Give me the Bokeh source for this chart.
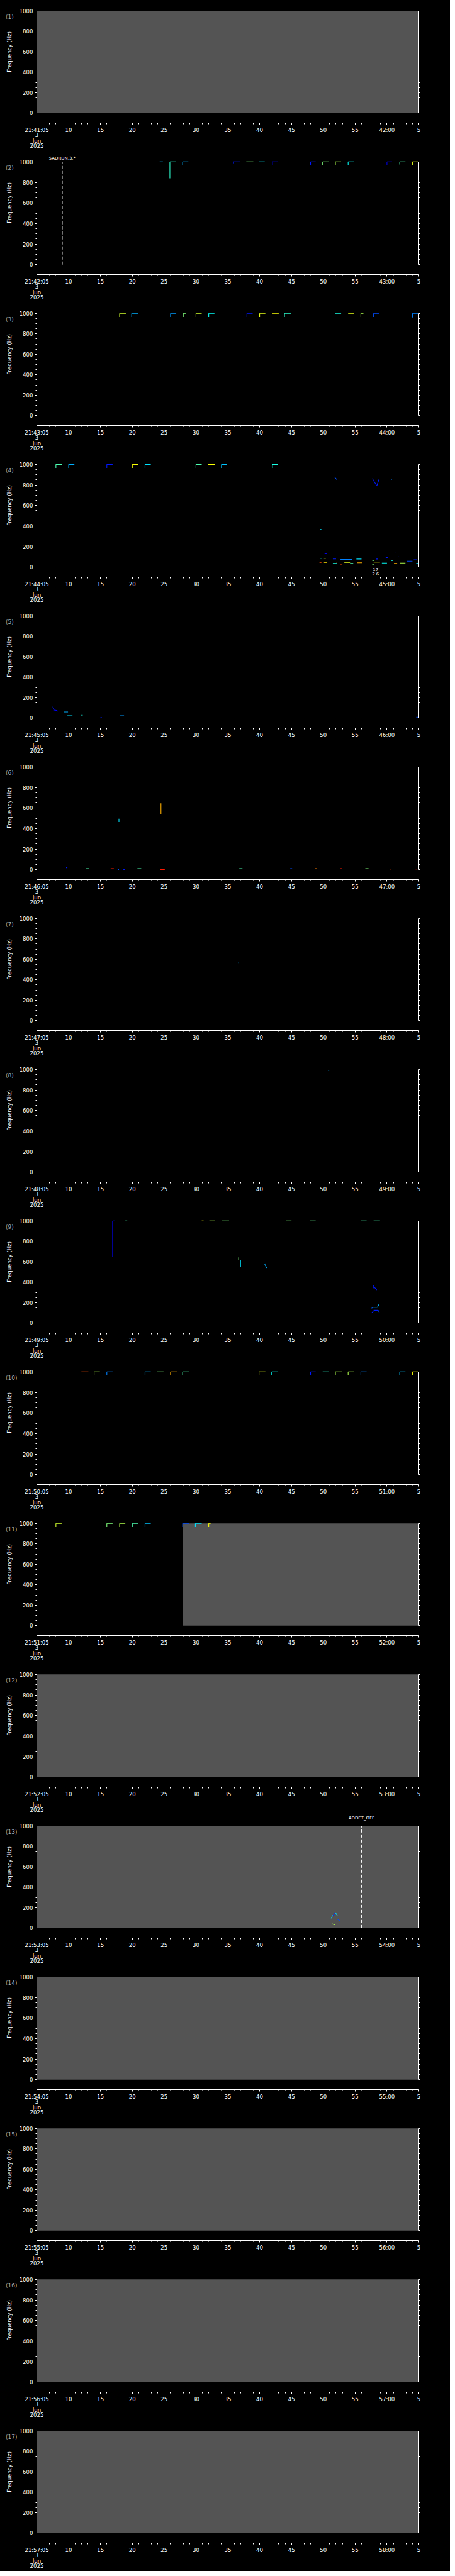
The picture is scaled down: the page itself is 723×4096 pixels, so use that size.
import numpy as np
from bokeh.plotting import figure
from bokeh.layouts import column, row
from bokeh.models import Range1d, LinearAxis, FixedTicker, Label, ColumnDataSource
from bokeh.transform import linear_cmap
from bokeh.embed import file_html
from bokeh.resources import INLINE

# ---------------- data ----------------
N_PANELS = 17
PANEL_START = ["21:%02d:05" % m for m in range(41, 58)]
NEXT_MINUTE = ["%02d:00" % m for m in range(42, 59)]
DATE_LINES = ["3", "Jun", "2025"]
X_TICKS = [0, 5, 10, 15, 20, 25, 30, 35, 40, 45, 50, 55, 60]
X_MID_LABELS = ["10", "15", "20", "25", "30", "35", "40", "45", "50", "55"]
X_LAST_LABEL = "5"
Y_TICKS = [0, 200, 400, 600, 800, 1000]
Y_LABEL = "Frequency  (Hz)"

# missing-data (grey) intervals, seconds after panel start
GAP_PANEL = [1, 11, 12, 13, 14, 15, 16, 17]
GAP_T0 = [0.0, 22.9, 0.0, 0.0, 0.0, 0.0, 0.0, 0.0]
GAP_T1 = [60.0, 60.0, 60.0, 60.0, 60.0, 60.0, 60.0, 60.0]

# step-shaped tones at the top of the band: start time, duration, lowest freq, colour value
GM_PANEL = [2]*14 + [3]*15 + [4]*9 + [9]*9 + [10]*16 + [11]*8
GM_T = [19.3, 20.9, 22.9, 30.9, 32.9, 34.9, 37.0, 43.0, 44.9, 46.9, 48.9, 55.0, 57.0, 59.0,
        13.0, 14.9, 21.0, 23.0, 25.0, 27.0, 33.0, 35.0, 37.0, 38.9, 46.9, 48.9, 50.9, 52.9, 59.0,
        3.0, 5.0, 11.0, 15.0, 17.0, 25.0, 26.9, 29.0, 37.0,
        11.9, 13.9, 25.9, 27.1, 29.0, 39.1, 42.9, 50.9, 52.9,
        7.0, 9.0, 11.0, 17.0, 18.9, 21.0, 22.9, 34.9, 36.9, 43.0, 44.9, 46.9, 48.9, 50.9, 57.0, 59.0,
        3.0, 11.0, 13.0, 15.0, 17.0, 22.9, 24.9, 27.0]
GM_DUR = [0.5, 1.0, 0.9, 1.0, 1.1, 0.9, 0.9, 0.8, 1.0, 0.9, 0.9, 0.8, 0.9, 0.9,
          1.0, 1.0, 0.9, 0.4, 0.9, 0.9, 0.9, 0.9, 1.0, 1.0, 0.9, 0.9, 0.4, 0.9, 0.9,
          1.0, 0.9, 0.9, 0.9, 0.9, 0.9, 1.1, 0.8, 0.9,
          0.3, 0.3, 0.3, 0.9, 1.2, 0.9, 0.9, 0.9, 1.0,
          1.1, 0.9, 0.9, 0.9, 1.0, 1.1, 1.0, 1.0, 1.0, 0.8, 1.0, 1.0, 0.9, 0.9, 0.9, 0.9,
          0.9, 0.9, 0.9, 0.9, 0.9, 1.0, 1.0, 0.3]
GM_FLO = [1000, 840, 965, 985, 1000, 1000, 965, 965, 965, 965, 965, 965, 975, 965,
          965, 965, 965, 965, 965, 965, 965, 965, 1000, 965, 1000, 1000, 965, 965, 960,
          965, 965, 965, 965, 965, 965, 1000, 965, 965,
          645, 1000, 1000, 1000, 1000, 1000, 1000, 1000, 1000,
          1000, 965, 965, 965, 1000, 965, 965, 965, 965, 965, 1000, 965, 965, 965, 965, 965,
          965, 965, 965, 965, 965, 965, 965, 965]
GM_C = [0.30, 0.42, 0.30, 0.15, 0.50, 0.36, 0.12, 0.15, 0.50, 0.55, 0.38, 0.10, 0.45, 0.60,
        0.58, 0.30, 0.28, 0.50, 0.58, 0.38, 0.15, 0.60, 0.62, 0.42, 0.40, 0.60, 0.55, 0.20, 0.25,
        0.45, 0.30, 0.15, 0.62, 0.35, 0.45, 0.62, 0.32, 0.40,
        0.10, 0.45, 0.62, 0.55, 0.50, 0.50, 0.48, 0.45, 0.45,
        0.80, 0.55, 0.25, 0.30, 0.50, 0.70, 0.45, 0.60, 0.38, 0.15, 0.42, 0.55, 0.55, 0.25, 0.32, 0.62,
        0.58, 0.50, 0.55, 0.45, 0.32, 0.20, 0.35, 0.62]

# short traces: panel, t0, t1, f0, f1, colour value
SEG_PANEL = [4]*33 + [5]*9 + [6]*16 + [7, 8] + [9]*12 + [12] + [13]*7
SEG_T0 = [44.5, 44.5, 45.1, 44.4, 45.1, 45.2, 46.5, 46.5, 47.0, 47.6, 47.7, 48.3, 49.2, 50.2, 50.3,
          52.7, 52.7, 52.9, 53.3, 54.2, 54.8, 55.6, 56.1, 56.2, 56.7, 57.0, 58.1, 59.2, 59.6,
          46.8, 52.7, 53.4, 55.7,
          2.5, 2.7, 3.2, 4.3, 4.8, 7.0, 10.0, 13.1, 59.6,
          12.9, 19.5, 4.6, 7.7, 11.6, 12.7, 13.6, 15.8, 19.4, 31.8, 39.8, 43.7, 47.6, 51.6, 55.5, 59.5,
          31.6, 45.8,
          31.7, 32.0, 35.8, 52.8, 52.8, 53.1, 52.6, 52.7, 53.5, 52.6, 52.9, 53.6,
          52.8,
          46.2, 46.5, 46.9, 47.2, 46.3, 46.9, 47.4]
SEG_T1 = [44.7, 44.8, 45.4, 44.7, 45.6, 45.6, 47.0, 47.1, 47.2, 47.9, 49.5, 49.2, 49.7, 51.0, 51.1,
          53.0, 52.9, 53.9, 53.6, 55.0, 55.1, 55.9, 56.6, 56.3, 56.8, 57.9, 59.0, 59.7, 60.0,
          47.1, 53.4, 53.8, 55.8,
          2.7, 3.2, 3.2, 4.9, 5.6, 7.2, 10.2, 13.7, 60.0,
          12.9, 19.5, 4.8, 8.2, 12.1, 12.9, 13.8, 16.4, 20.1, 32.3, 40.1, 44.0, 47.9, 52.1, 55.7, 59.7,
          31.7, 45.9,
          31.7, 32.0, 36.1, 53.1, 53.1, 53.4, 52.7, 53.5, 53.8, 52.9, 53.6, 53.8,
          52.9,
          46.5, 46.9, 47.2, 47.7, 46.9, 47.4, 48.0]
SEG_F0 = [367, 86, 86, 46, 46, 130, 80, 36, 50, 22, 75, 46, 36, 79, 43,
          65, 26, 50, 79, 40, 94, 65, 36, 141, 104, 40, 58, 72, 36,
          875, 863, 791, 856,
          112, 80, 74, 61, 23, 28, 6, 23, 10,
          463, 543, 19, 10, 10, 1, 1, 10, 1, 10, 10, 10, 10, 10, 6, 6,
          560, 985,
          643, 620, 577, 369, 345, 345, 143, 154, 154, 100, 126, 126,
          681,
          96, 117, 153, 89, 43, 39, 39]
SEG_F1 = [367, 86, 86, 46, 46, 130, 80, 36, 50, 22, 75, 46, 36, 79, 43,
          65, 26, 50, 79, 40, 94, 65, 36, 141, 104, 40, 58, 72, 36,
          853, 791, 863, 856,
          85, 74, 65, 61, 23, 28, 6, 23, 10,
          495, 646, 19, 10, 10, 1, 1, 10, 1, 10, 10, 10, 10, 10, 6, 6,
          566, 990,
          620, 549, 540, 345, 345, 325, 154, 154, 191, 120, 126, 106,
          681,
          125, 153, 120, 67, 31, 39, 39]
SEG_C = [0.35, 0.40, 0.60, 0.80, 0.65, 0.10, 0.15, 0.40, 0.80, 0.80, 0.25, 0.60, 0.45, 0.35, 0.70,
         0.50, 0.50, 0.62, 0.15, 0.38, 0.15, 0.40, 0.70, 0.15, 0.15, 0.55, 0.20, 0.15, 0.35,
         0.20, 0.15, 0.15, 0.25,
         0.15, 0.12, 0.12, 0.30, 0.35, 0.40, 0.15, 0.28, 0.20,
         0.35, 0.70, 0.15, 0.45, 0.85, 0.20, 0.15, 0.45, 0.85, 0.45, 0.20, 0.75, 0.85, 0.50, 0.80, 0.85,
         0.30, 0.30,
         0.50, 0.35, 0.30, 0.15, 0.15, 0.15, 0.20, 0.30, 0.30, 0.15, 0.15, 0.20,
         0.95,
         0.35, 0.15, 0.35, 0.20, 0.55, 0.25, 0.40]

# event markers
EVENT_PANEL = [2, 13]
EVENT_T = [4.0, 51.0]
EVENT_TEXT = ["$ADRUN,3,*", "ADDET_OFF"]
EVENT_TEXT_RISE = [7, 17]          # reference px above the band top

NOTE_PANEL = [4, 4]
NOTE_T = [53.2, 53.2]
NOTE_TEXT = ["17", "2.6"]
NOTE_DROP = [5, 15]                 # reference px below the band bottom

# ---------------- layout geometry (reference px -> page px) ----------------
S = 0.705
TOTAL_H = 4088
WIDTH = 715
SIDE_W = 27                               # narrow left strip: panel number + y title
BORDER_L = round(81 * S) - SIDE_W         # 30
FRAME_W = round(863 * S)                  # 608
MAIN_W = WIDTH - SIDE_W
BORDER_R = MAIN_W - BORDER_L - FRAME_W
TOP_PX = 24 * S                           # 1000 Hz line, from panel top
ZERO_PX = 257 * S                         # 0 Hz line
FRAME_H = 197                             # frame from panel top to the x axis line
PX_PER_HZ = (ZERO_PX - TOP_PX) / 1000.0
Y_END = 1000 + TOP_PX / PX_PER_HZ
Y_START = -(FRAME_H - ZERO_PX) / PX_PER_HZ

FONT = "DejaVu Sans"
FS = "8.6px"


def jet_hex(v):
    r = min(max(1.5 - abs(4 * v - 3), 0), 1)
    g = min(max(1.5 - abs(4 * v - 2), 0), 1)
    b = min(max(1.5 - abs(4 * v - 1), 0), 1)
    return "#%02x%02x%02x" % (int(r * 255), int(g * 255), int(b * 255))


JET = [jet_hex(v) for v in np.linspace(0, 1, 256)]


def text_label(x, y, text, size=FS, color="white", align="center", angle=0.0):
    return Label(x=x, y=y, text=text, text_color=color, text_font=FONT,
                 text_font_size=size, text_align=align, text_baseline="middle",
                 angle=angle)


bounds = [round(TOTAL_H * i / N_PANELS) for i in range(N_PANELS + 1)]
rows = []
for k in range(N_PANELS):
    pn = k + 1
    h = bounds[k + 1] - bounds[k]

    # ---- left strip: panel number and axis title (page px coordinates) ----
    side = figure(width=SIDE_W, height=h, x_range=Range1d(0, SIDE_W), y_range=Range1d(h, 0),
                  output_backend="svg", toolbar_location=None,
                  min_border_left=0, min_border_right=0, min_border_top=0, min_border_bottom=0,
                  background_fill_color="black", border_fill_color="black",
                  outline_line_color=None, x_axis_location=None, y_axis_location=None)
    side.grid.visible = False
    side.add_layout(text_label(12 * S, 47 * S, "(%d)" % pn, size="9px", color="#a8a8a8",
                               align="left"))
    side.add_layout(text_label(20 * S, (TOP_PX + ZERO_PX) / 2, Y_LABEL, angle=np.pi / 2))

    # ---- main panel ----
    p = figure(width=MAIN_W, height=h, x_range=Range1d(0, 60), y_range=Range1d(Y_START, Y_END),
               output_backend="svg", toolbar_location=None,
               min_border_left=BORDER_L, min_border_right=BORDER_R,
               min_border_top=0, min_border_bottom=h - FRAME_H,
               background_fill_color="black", border_fill_color="black",
               outline_line_color=None)
    p.grid.visible = False

    # x axis (time)
    xa = p.xaxis[0]
    xa.ticker = FixedTicker(ticks=X_TICKS, minor_ticks=list(range(0, 61)))
    ov = {0: PANEL_START[k] + "\n" + "\n".join(DATE_LINES), 55: NEXT_MINUTE[k], 60: X_LAST_LABEL}
    for t, lab in zip(X_TICKS[1:-2], X_MID_LABELS):
        ov[t] = lab
    xa.major_label_overrides = ov
    xa.axis_line_color = "white"
    xa.major_tick_line_color = "white"
    xa.minor_tick_line_color = "white"
    xa.major_tick_in = 0
    xa.major_tick_out = 3
    xa.minor_tick_in = 0
    xa.minor_tick_out = 2
    xa.major_label_text_color = "white"
    xa.major_label_text_font = FONT
    xa.major_label_text_font_size = FS
    xa.major_label_text_line_height = 0.85
    xa.major_label_standoff = 3

    # left y axis (with labels) and right y axis (ticks only)
    ya = p.yaxis[0]
    ya.ticker = FixedTicker(ticks=Y_TICKS, minor_ticks=list(range(0, 1001, 50)))
    yr = LinearAxis(ticker=FixedTicker(ticks=[], minor_ticks=list(range(0, 1001, 50))))
    p.add_layout(yr, "right")
    for ax in (ya, yr):
        ax.bounds = (0, 1000)
        ax.axis_line_color = "white"
        ax.major_tick_line_color = "white"
        ax.minor_tick_line_color = "white"
        ax.major_tick_in = 0
        ax.major_tick_out = 3
        ax.minor_tick_in = 0
        ax.minor_tick_out = 2
        ax.major_label_text_color = "white"
        ax.major_label_text_font = FONT
        ax.major_label_text_font_size = FS
        ax.major_label_standoff = 3

    # missing-data shading
    g = [i for i, q in enumerate(GAP_PANEL) if q == pn]
    if g:
        p.quad(left=[GAP_T0[i] for i in g], right=[GAP_T1[i] for i in g],
               bottom=0, top=1000, fill_color="#545454", line_color=None)

    # step tones and traces
    idx = [i for i, q in enumerate(GM_PANEL) if q == pn]
    x0, y0, x1, y1, cc = [], [], [], [], []
    for i in idx:
        t, d, lo, c = GM_T[i], GM_DUR[i], GM_FLO[i], GM_C[i]
        if lo < 1000:
            x0.append(t); x1.append(t); y0.append(lo); y1.append(1000); cc.append(c)
        x0.append(t); x1.append(t + d); y0.append(1000); y1.append(1000); cc.append(c)
    idx = [i for i, q in enumerate(SEG_PANEL) if q == pn]
    for i in idx:
        x0.append(SEG_T0[i]); x1.append(SEG_T1[i]); y0.append(SEG_F0[i]); y1.append(SEG_F1[i])
        cc.append(SEG_C[i])
    if x0:
        src = ColumnDataSource(dict(x0=x0, y0=y0, x1=x1, y1=y1, c=cc))
        p.segment("x0", "y0", "x1", "y1", source=src, line_width=1.1,
                  line_color=linear_cmap("c", JET, 0, 1))

    # events
    for i, q in enumerate(EVENT_PANEL):
        if q == pn:
            p.segment(x0=[EVENT_T[i]], y0=[0], x1=[EVENT_T[i]], y1=[1000],
                      line_color="white", line_width=1, line_dash="5 3")
            p.add_layout(text_label(EVENT_T[i], 1000 + EVENT_TEXT_RISE[i] * S / PX_PER_HZ,
                                    EVENT_TEXT[i], size="7px"))
    for i, q in enumerate(NOTE_PANEL):
        if q == pn:
            p.add_layout(text_label(NOTE_T[i], -NOTE_DROP[i] * S / PX_PER_HZ,
                                    NOTE_TEXT[i], size="7px"))

    rows.append(row(side, p, spacing=0))

layout = column(*rows, spacing=0, styles={"background-color": "black"})
open("out.html", "w").write(file_html(layout, INLINE))
